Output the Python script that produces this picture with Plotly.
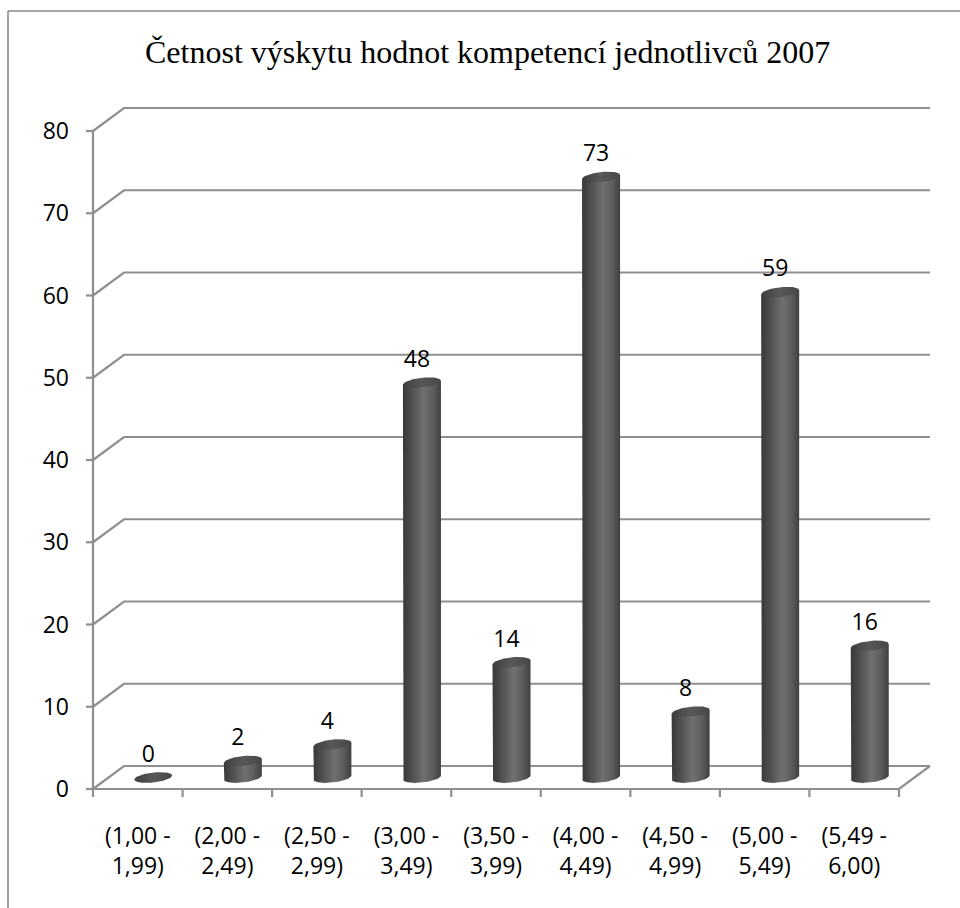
import numpy as np
import plotly.graph_objects as go

# --- data -------------------------------------------------------------
categories = [
    "(1,00 -<br>1,99)", "(2,00 -<br>2,49)", "(2,50 -<br>2,99)",
    "(3,00 -<br>3,49)", "(3,50 -<br>3,99)", "(4,00 -<br>4,49)",
    "(4,50 -<br>4,99)", "(5,00 -<br>5,49)", "(5,49 -<br>6,00)",
]
counts = [0, 2, 4, 48, 14, 73, 8, 59, 16]
y_ticks = [0, 10, 20, 30, 40, 50, 60, 70, 80]
title_text = "Četnost výskytu hodnot kompetencí jednotlivců 2007"

# --- pixel geometry of the pseudo-3D frame -----------------------------
W, H = 960, 908
PLOT_L, PLOT_R, PLOT_T, PLOT_B = 84, 934, 100, 798
X0_PX, Y0_PX = 93, 789            # front-left corner of the floor
UX = 806 / 9                      # px per category
UY = 658 / 80                     # px per value unit
DX = 31 / UX                      # depth offset (x, in category units)
DY = 23 / UY                      # depth offset (y, in value units)
N = len(counts)

x_range = [(PLOT_L - X0_PX) / UX, (PLOT_R - X0_PX) / UX]
y_range = [(Y0_PX - PLOT_B) / UY, (Y0_PX - PLOT_T) / UY]

GRID = "#8f8f8f"
FONT = "Open Sans"
SERIF = "Liberation Serif"

fig = go.Figure()

# back wall / side wall gridlines (oblique on the left wall, flat on the back)
gx, gy = [], []
for v in y_ticks:
    gx += [0, DX, N + DX, None]
    gy += [v, v + DY, v + DY, None]
# floor front edge + right edge
gx += [0, N, N + DX, None]
gy += [0, 0, DY, None]
# vertical value axis
gx += [0, 0, None]
gy += [0, y_ticks[-1], None]
# value ticks
for v in y_ticks:
    gx += [-7 / UX, 0, None]
    gy += [v, v, None]
# category ticks
for i in range(N + 1):
    gx += [i, i, None]
    gy += [0, -8 / UY, None]
fig.add_trace(go.Scatter(x=gx, y=gy, mode="lines",
                         line=dict(color=GRID, width=2.2),
                         hoverinfo="skip", showlegend=False))

# cylinders
RX = 19 / UX
RY = 5 / UY
TILT = 2 / UY
t_low = np.linspace(np.pi, 2 * np.pi, 40)
t_all = np.linspace(0, 2 * np.pi, 80)

body_scale = [[0, "#383838"], [0.2, "#4c4c4c"], [0.55, "#707070"],
              [0.8, "#5c5c5c"], [1, "#404040"]]
top_scale = [[0, "#3e3e3e"], [0.5, "#585858"], [1, "#464646"]]

for i, v in enumerate(counts):
    xc = i + 0.5 + DX / 2
    base = DY / 2
    top = v + DY / 2
    if v > 0:
        # body: straight sides, closed below by the lower arc of the base ellipse
        arc_x = xc + RX * np.cos(t_low)
        arc_y = base + RY * np.sin(t_low) + TILT * np.cos(t_low)
        bx = [xc - RX] + list(arc_x) + [xc + RX, xc - RX]
        by = [top - TILT] + list(arc_y) + [top + TILT, top - TILT]
        fig.add_trace(go.Scatter(
            x=bx, y=by, mode="lines", fill="toself",
            line=dict(width=0, color="#444444"),
            fillgradient=dict(type="horizontal", colorscale=body_scale),
            hoverinfo="skip", showlegend=False))
    ex = xc + RX * np.cos(t_all)
    ey = top + RY * np.sin(t_all) + TILT * np.cos(t_all)
    fig.add_trace(go.Scatter(
        x=ex, y=ey, mode="lines", fill="toself",
        line=dict(width=0, color="#444444"),
        fillgradient=dict(type="horizontal", colorscale=top_scale),
        hoverinfo="skip", showlegend=False))

# value labels above the cylinders
fig.add_trace(go.Scatter(
    x=[i + 0.5 + DX / 2 - 5 / UX for i in range(N)],
    y=[v + DY / 2 + 21.5 / UY for v in counts],
    mode="text", text=[str(v) for v in counts],
    textposition="middle center",
    textfont=dict(family=FONT, size=23, color="#000000"),
    cliponaxis=False, hoverinfo="skip", showlegend=False))


# outer chart border (extends past the right and bottom edges)
def px_to_paper_x(px):
    return (px - PLOT_L) / (PLOT_R - PLOT_L)


def px_to_paper_y(py):
    return (PLOT_B - py) / (PLOT_B - PLOT_T)


fig.add_shape(type="line", xref="paper", yref="paper",
              x0=px_to_paper_x(8), y0=px_to_paper_y(11),
              x1=px_to_paper_x(8), y1=px_to_paper_y(H + 5),
              line=dict(color="#8a8a8a", width=1.6))
fig.add_shape(type="line", xref="paper", yref="paper",
              x0=px_to_paper_x(8), y0=px_to_paper_y(11),
              x1=px_to_paper_x(W + 5), y1=px_to_paper_y(11),
              line=dict(color="#8a8a8a", width=1.6))

# chart title
fig.add_annotation(text=title_text, xref="paper", yref="paper",
                   x=px_to_paper_x(487), y=px_to_paper_y(52),
                   xanchor="center", yanchor="middle", showarrow=False,
                   font=dict(family=SERIF, size=32, color="#000000"))

fig.update_layout(
    width=W, height=H, autosize=False,
    margin=dict(l=PLOT_L, r=W - PLOT_R, t=PLOT_T, b=H - PLOT_B, pad=0),
    paper_bgcolor="white", plot_bgcolor="white",
    xaxis=dict(range=x_range, tickvals=[i + 0.5 for i in range(N)],
               ticktext=categories, showgrid=False, zeroline=False,
               showline=False, ticks="", ticklabelstandoff=22,
               tickfont=dict(family=FONT, size=23, color="#000000"),
               fixedrange=True),
    yaxis=dict(range=y_range, tickvals=y_ticks, showgrid=False,
               zeroline=False, showline=False, ticks="",
               ticklabelstandoff=14,
               tickfont=dict(family=FONT, size=23, color="#000000"),
               fixedrange=True),
)

fig.write_html("out.html")
